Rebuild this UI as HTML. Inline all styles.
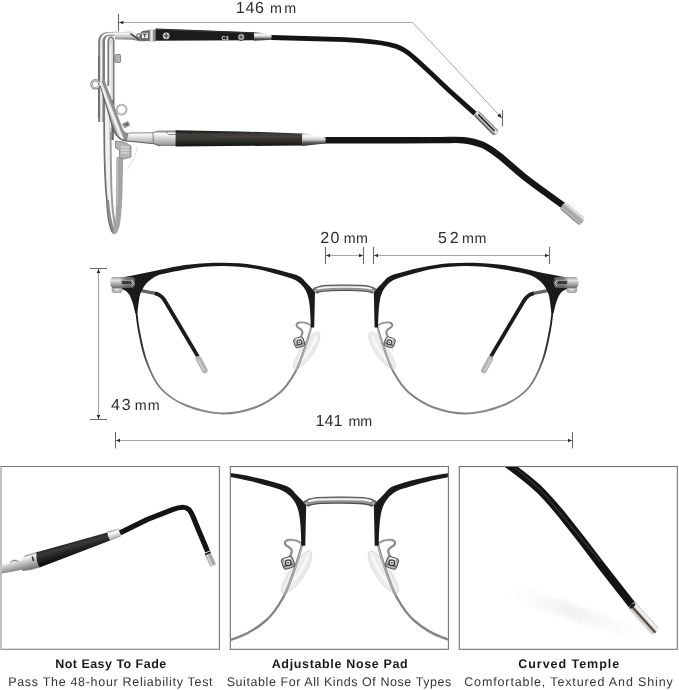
<!DOCTYPE html>
<html>
<head>
<meta charset="utf-8">
<title>Glasses dimensions</title>
<style>
html,body{margin:0;padding:0;background:#fff;}
body{width:679px;height:690px;overflow:hidden;font-family:"Liberation Sans",sans-serif;}
svg{display:block;position:absolute;left:0;top:0;will-change:transform;}
text{font-family:"Liberation Sans",sans-serif;fill:#222;text-rendering:geometricPrecision;}
.dim{stroke:#a4a4a4;stroke-width:1;fill:none;}
.tick{stroke:#6a6a6a;stroke-width:1.1;fill:none;}
.dimtxt{font-size:16px;fill:#2e2e2e;}
.cap{font-size:12.5px;fill:#363636;}
.capb{font-size:12.5px;font-weight:bold;fill:#1a1a1a;}
</style>
</head>
<body>
<svg width="679" height="690" viewBox="0 0 679 690">
<defs>
  <linearGradient id="silverV" x1="0" y1="0" x2="0" y2="1">
    <stop offset="0" stop-color="#8f8f8f"/>
    <stop offset="0.3" stop-color="#f4f4f4"/>
    <stop offset="0.6" stop-color="#bdbdbd"/>
    <stop offset="1" stop-color="#6f6f6f"/>
  </linearGradient>
  <linearGradient id="silverH" x1="0" y1="0" x2="1" y2="0">
    <stop offset="0" stop-color="#8a8a8a"/>
    <stop offset="0.35" stop-color="#f2f2f2"/>
    <stop offset="0.65" stop-color="#b5b5b5"/>
    <stop offset="1" stop-color="#7a7a7a"/>
  </linearGradient>
  <linearGradient id="endTipW" x1="0" y1="0" x2="0" y2="1">
    <stop offset="0" stop-color="#9a9a9a"/><stop offset="0.1" stop-color="#f7f7f7"/><stop offset="0.25" stop-color="#bdbdbd"/><stop offset="0.55" stop-color="#a2a2a2"/><stop offset="0.82" stop-color="#b9b9b9"/><stop offset="1" stop-color="#6d6d6d"/>
  </linearGradient>
  <linearGradient id="endTipV" x1="0" y1="0" x2="0" y2="1">
    <stop offset="0" stop-color="#6a6a6a"/><stop offset="0.3" stop-color="#f8f8f8"/><stop offset="0.6" stop-color="#c9c9c9"/><stop offset="1" stop-color="#3d3d3d"/>
  </linearGradient>
  <linearGradient id="darkBar" x1="0" y1="0" x2="0" y2="1">
    <stop offset="0" stop-color="#2a2a2a"/>
    <stop offset="0.5" stop-color="#4a4845"/>
    <stop offset="1" stop-color="#1e1e1e"/>
  </linearGradient>
</defs>

<!-- ============ DIMENSION LINES ============ -->
<g class="dim">
  <path d="M119 22.5 H412.5 L502 118.2"/>
  <path d="M326 255.5 H363"/>
  <path d="M374 255.5 H549"/>
  <path d="M98.5 269 V419"/>
  <path d="M116 440.5 H572"/>
</g>
<g class="tick">
  <path d="M118.5 14 V31 M502.5 110 V126.5"/>
  <path d="M325.5 247 V264 M363.5 247 V264"/>
  <path d="M373.5 247 V264 M549.5 247 V264"/>
  <path d="M90 268.5 H107 M90 419.5 H107"/>
  <path d="M115.5 432 V448.5 M572.5 432 V448.5"/>
</g>
<g fill="#2a2a2a">
  <path d="M119 22.5 l4.4 -1.8 v3.6z"/>
  <path d="M501.8 118 l-4.6 -2 l2.8 -2.8z"/>
  <path d="M326 255.5 l4 -1.8 v3.6z M363 255.5 l-4 -1.8 v3.6z"/>
  <path d="M374 255.5 l4 -1.8 v3.6z M549 255.5 l-4 -1.8 v3.6z"/>
  <path d="M98.5 269 l-1.8 4 h3.6z M98.5 419 l-1.8 -4 h3.6z"/>
  <path d="M116 440.5 l4 -1.8 v3.6z M572 440.5 l-4 -1.8 v3.6z"/>
</g>

<!-- ============ DIMENSION TEXT ============ -->
<text class="dimtxt" x="235.8" y="12.6" textLength="28.2" lengthAdjust="spacing">146</text>
<text class="dimtxt" x="270.1" y="12.6" style="font-size:14.3px" textLength="26.0" lengthAdjust="spacing">mm</text>
<text class="dimtxt" x="320.3" y="243.0" textLength="19.1" lengthAdjust="spacing">20</text>
<text class="dimtxt" x="343.7" y="243.0" style="font-size:14.3px" textLength="24.2" lengthAdjust="spacing">mm</text>
<text class="dimtxt" x="437.9" y="243.0" textLength="20.8" lengthAdjust="spacing">52</text>
<text class="dimtxt" x="462.0" y="243.0" style="font-size:14.3px" textLength="24.3" lengthAdjust="spacing">mm</text>
<text class="dimtxt" x="111.1" y="410.0" textLength="19.5" lengthAdjust="spacing">43</text>
<text class="dimtxt" x="134.8" y="410.0" style="font-size:14.3px" textLength="24.8" lengthAdjust="spacing">mm</text>
<text class="dimtxt" x="315.4" y="426.0" textLength="27.0" lengthAdjust="spacing">141</text>
<text class="dimtxt" x="348.5" y="426.0" style="font-size:14.3px" textLength="23.6" lengthAdjust="spacing">mm</text>

<!-- ============ PANELS ============ -->
<g fill="none" stroke="#737373" stroke-width="1.1">
  <path d="M1 466.5 H219.4 V649.3 H1" />
  <path d="M1 466 V650" stroke="#a5a5a5" stroke-width="1.4"/>
  <rect x="230.3" y="466.5" width="218.1" height="182.8"/>
  <rect x="459.3" y="466.5" width="218" height="182.8"/>
</g>

<!-- ============ CAPTIONS ============ -->
<text class="capb" x="55.2" y="667.5" textLength="111" lengthAdjust="spacing">Not Easy To Fade</text>
<text class="cap" x="8.2" y="685.5" textLength="204.4" lengthAdjust="spacing">Pass The 48-hour Reliability Test</text>
<text class="capb" x="271.7" y="667.5" textLength="136" lengthAdjust="spacing">Adjustable Nose Pad</text>
<text class="cap" x="226.7" y="685.5" textLength="224.6" lengthAdjust="spacing">Suitable For All Kinds Of Nose Types</text>
<text class="capb" x="518.2" y="667.5" textLength="101" lengthAdjust="spacing">Curved Temple</text>
<text class="cap" x="464.2" y="685.5" textLength="208.6" lengthAdjust="spacing">Comfortable, Textured And Shiny</text>

<!-- SIDEVIEW -->
<defs>
  <linearGradient id="tipA" gradientUnits="userSpaceOnUse" x1="254" y1="32" x2="254" y2="41">
    <stop offset="0" stop-color="#6a6a6a"/><stop offset="0.28" stop-color="#fafafa"/><stop offset="0.52" stop-color="#c9c9c9"/><stop offset="0.75" stop-color="#555"/><stop offset="1" stop-color="#222"/>
  </linearGradient>
  <linearGradient id="tipB" gradientUnits="userSpaceOnUse" x1="302" y1="132" x2="302" y2="147">
    <stop offset="0" stop-color="#8a8a8a"/><stop offset="0.25" stop-color="#fdfdfd"/><stop offset="0.5" stop-color="#cfcfcf"/><stop offset="0.72" stop-color="#555"/><stop offset="1" stop-color="#1e1e1e"/>
  </linearGradient>
  <linearGradient id="barB" gradientUnits="userSpaceOnUse" x1="0" y1="131" x2="0" y2="146">
    <stop offset="0" stop-color="#1c1b1a"/><stop offset="0.22" stop-color="#423f3c"/><stop offset="0.6" stop-color="#373431"/><stop offset="0.9" stop-color="#1c1b1a"/><stop offset="1" stop-color="#161515"/>
  </linearGradient>
  <linearGradient id="armB" gradientUnits="userSpaceOnUse" x1="0" y1="131" x2="0" y2="146">
    <stop offset="0" stop-color="#8d8d8d"/><stop offset="0.18" stop-color="#ffffff"/><stop offset="0.5" stop-color="#d2d2d2"/><stop offset="0.85" stop-color="#a3a3a3"/><stop offset="1" stop-color="#777"/>
  </linearGradient>
  <linearGradient id="armA" gradientUnits="userSpaceOnUse" x1="0" y1="30" x2="0" y2="41">
    <stop offset="0" stop-color="#8a8a8a"/><stop offset="0.3" stop-color="#f6f6f6"/><stop offset="0.65" stop-color="#c2c2c2"/><stop offset="1" stop-color="#6c6c6c"/>
  </linearGradient>
  <linearGradient id="diagG" gradientUnits="userSpaceOnUse" x1="105.2" y1="107.6" x2="111.4" y2="105.2">
    <stop offset="0" stop-color="#6c6c6c"/><stop offset="0.3" stop-color="#b4b4b4"/><stop offset="0.62" stop-color="#fbfbfb"/><stop offset="0.85" stop-color="#d9d9d9"/><stop offset="1" stop-color="#8e8e8e"/>
  </linearGradient>
  <linearGradient id="endTip" x1="0" y1="0" x2="1" y2="0">
    <stop offset="0" stop-color="#4a4a4a"/><stop offset="0.35" stop-color="#f4f4f4"/><stop offset="0.7" stop-color="#bdbdbd"/><stop offset="1" stop-color="#555"/>
  </linearGradient>
</defs>
<g>
  <!-- lens rim (side) tube -->
  <path d="M103.9 96.0 C104.0 101.3 104.1 118.0 104.2 128.0 C104.3 138.0 104.3 146.5 104.5 156.0 C104.7 165.5 105.2 178.2 105.6 185.0 C105.9 191.8 106.3 193.2 106.6 197.0 C106.9 200.8 107.0 204.4 107.3 208.0 C107.6 211.6 108.0 215.4 108.5 218.6 C109.0 221.8 109.8 225.0 110.5 227.4 C111.2 229.8 112.6 232.1 113.0 233.0 L116.2 232.0 L115.1 227.4 L113.9 218.6 L113.0 212.0 L112.0 200.0 L111.3 185.0 L110.8 156.0 L110.4 128.0 L109.6 96.0Z" fill="#f1f1f1"/>
  <path d="M103.9 96.0 C104.0 101.3 104.1 118.0 104.2 128.0 C104.3 138.0 104.3 146.5 104.5 156.0 C104.7 165.5 105.2 178.2 105.6 185.0 C105.9 191.8 106.3 193.2 106.6 197.0 C106.9 200.8 107.0 204.4 107.3 208.0 C107.6 211.6 108.0 215.4 108.5 218.6 C109.0 221.8 109.8 225.0 110.5 227.4 C111.2 229.8 112.6 232.1 113.0 233.0" stroke="#6e6e6e" stroke-width="1.7" fill="none"/>
  <path d="M109.6 96.0 C109.7 101.3 110.2 118.0 110.4 128.0 C110.6 138.0 110.7 146.5 110.8 156.0 C110.9 165.5 111.1 177.7 111.3 185.0 C111.5 192.3 111.7 195.5 112.0 200.0 C112.3 204.5 112.7 208.9 113.0 212.0 C113.3 215.1 113.6 216.0 113.9 218.6 C114.2 221.2 114.7 225.2 115.1 227.4 C115.5 229.6 116.0 231.2 116.2 232.0" stroke="#9a9a9a" stroke-width="1.9" fill="none"/>
  <path d="M107.6 200 C108.4 212 110 222 113.6 231" stroke="#8a8a8a" stroke-width="2.6" fill="none"/>
  <!-- grey vertical bar -->
  <path d="M116.4 157 L123.2 157 L122.6 185 C122.4 200 121.6 214 120 224 C118.8 230 117 234 114.6 234.6 L112.4 233.6 C114.6 229 115.4 222 115.8 212 C116.2 200 116.2 180 116.4 157Z" fill="#a4a4a4"/>
  <path d="M117.4 158 V205" stroke="#bfbfbf" stroke-width="1.3"/>
  <!-- inner loop -->
  <path d="M107.6 86 V42 C107.6 34.5 114.3 34.5 114.3 42 V132 L110 132 V86Z" fill="#d4d4d4"/>
  <path d="M108.2 86 V42 C108.2 35.5 113.8 35.5 113.8 42 V131" stroke="#6f6f6f" stroke-width="1.3" fill="none"/>
  <path d="M110.6 44 V128" stroke="#f3f3f3" stroke-width="1.6" fill="none"/>
  <path d="M112.6 100 V140" stroke="#6a6a6a" stroke-width="2.4" fill="none"/>
  <!-- outer frame stroke -->
  <path d="M98.2 122 V42 C98.2 35.5 102 32 109 32 L118.5 31.8 L118.5 35.6 L110.5 35.7 C106.5 35.8 105 37.5 105 42 V122 Z" fill="#7c7c7c"/>
  <path d="M101.3 122 V42 C101.3 37 103.8 33.9 109.5 33.7 L118.5 33.5" stroke="#f0f0f0" stroke-width="2.3" fill="none"/>
  <path d="M98.7 118 V56" stroke="#5c5c5c" stroke-width="0.9" fill="none"/>
  <!-- knob -->
  <rect x="115" y="54.5" width="5.6" height="8" rx="1.2" fill="#b4b4b4" stroke="#6d6d6d" stroke-width="0.8"/>
  <!-- top hinge arm -->
  <path d="M113.5 32.6 L131 31.4 L138 34.6 L141 40.8 L132 39 L115 38.6Z" fill="url(#armA)"/>
  <path d="M115 38.8 L132 39.2 L141 41" stroke="#6e6e6e" stroke-width="0.9" fill="none"/>
  <path d="M130.4 33.6 L139.6 40" stroke="#3d3d3d" stroke-width="1.5" fill="none"/>
  <path d="M138.5 36.5 L142.5 31 L149.5 30 L149.5 41 L141.5 41.2Z" fill="#6a6a6a"/>
  <circle cx="138.6" cy="35.6" r="2" fill="#cfcfcf" stroke="#555" stroke-width="0.8"/>
  <rect x="141.2" y="32.2" width="7.2" height="6.6" fill="#ededed" stroke="#4a4a4a" stroke-width="0.8"/>
  <path d="M142.8 34.2 h4 M144.8 34.2 v3.4" stroke="#333" stroke-width="1" fill="none"/>
  <rect x="149" y="29.6" width="6.6" height="11.8" fill="#8c8c8c"/>
  <rect x="150.4" y="29.6" width="2.4" height="11.8" fill="#eaeaea"/>
  <!-- top black bar -->
  <path d="M155.5 28.5 L254 32.3 L254 40.2 L155.5 40.8Z" fill="#1d1c1c"/>
  <path d="M156 29.4 L254 33" stroke="#3b3b3b" stroke-width="0.8"/>
  <circle cx="166.2" cy="35.8" r="3.9" fill="#d4d4d4" stroke="#0c0c0c" stroke-width="0.8"/>
  <circle cx="166.2" cy="35.8" r="1.6" fill="#666"/><path d="M163.6 35.8 H168.8 M166.2 33.2 V38.4" stroke="#555" stroke-width="0.9"/>
  <circle cx="241.2" cy="37" r="3.5" fill="#cacaca" stroke="#0c0c0c" stroke-width="0.8"/>
  <circle cx="241.2" cy="37" r="1.4" fill="#666"/><path d="M238.8 37 H243.6 M241.2 34.6 V39.4" stroke="#555" stroke-width="0.9"/>
  <text x="221.5" y="39.6" font-size="5.6" font-weight="bold" style="fill:#e4e4e4">C3</text>
  <!-- top silver tip -->
  <path d="M254 31.8 L270 34.6 L272.4 35.2 L272.4 39.8 L254 40.8Z" fill="url(#tipA)"/>
  <!-- top wire -->
  <path d="M271.5 37.5 L345 39.6 L360 40.6 C372 41.4 385 43 395.3 46.1 C402 48.4 408 52.6 412 56 C415 58.6 417 60.2 418.3 61.5 L430.7 73 L448.3 89.8 L475 113.6" stroke="#151515" stroke-width="4.8" fill="none"/>
  <!-- top end tip -->
  <g transform="translate(475.8 112.8) rotate(45.3)">
    <rect x="0" y="-3.4" width="29.4" height="6.8" rx="2.8" fill="url(#endTipV)" stroke="#9a9a9a" stroke-width="0.5"/>
    <path d="M3.5 -0.6 H25.5" stroke="#1c1c1c" stroke-width="1.5" stroke-linecap="round"/>
  </g>

  <!-- nose pad arm (side) -->
  <circle cx="95.4" cy="84.2" r="4" fill="none" stroke="#7d7d7d" stroke-width="2.4"/>
  <circle cx="95.4" cy="84.2" r="4" fill="none" stroke="#e4e4e4" stroke-width="0.9"/>
  <circle cx="121.6" cy="109.6" r="5" fill="none" stroke="#8d8d8d" stroke-width="1.7"/>
  <circle cx="121.6" cy="109.6" r="5" fill="none" stroke="#eeeeee" stroke-width="0.6"/>
  <path d="M122.5 124 l5.4 -2.4 l2 3.6 l-5.4 2.6z" fill="#9a9a9a" stroke="#6a6a6a" stroke-width="0.6"/>
  <path d="M125.4 125 l2.4 -1.2" stroke="#444" stroke-width="1.4"/>
  <!-- lower hinge arm (horizontal) -->
  <path d="M120 128 C122 131.5 124.5 133 128.6 133 L152 132.8 L158 131 L176.5 131 L176.5 146 L160 146 L154 143.7 L126.6 141 C121 140.4 117 137 114.6 132.5Z" fill="url(#armB)"/>
  <path d="M128.6 133 L152 132.8 L158 131 L176.5 131" stroke="#808080" stroke-width="0.9" fill="none"/>
  <path d="M160 146 L154 143.7 L126.6 141 C121 140.4 117 137 114.6 132.5" stroke="#5f5f5f" stroke-width="1.1" fill="none"/>
  <path d="M153 133 L153.5 143.5 M166 131.5 l2.5 3 h7.5" stroke="#777" stroke-width="0.9" fill="none"/>
  <!-- diagonal arm -->
  <path d="M99.6 81.4 L104.6 80.6 L106 84 L122.6 128.4 C123.6 131 125.6 132.8 128.6 133 L127 140.8 C120.4 140 115.2 135 113.2 129.2 L100.4 86Z" fill="url(#diagG)"/>
  <path d="M100.4 86 L113.2 129.2 C115.2 135 120.4 140 127 140.8" stroke="#5a5a5a" stroke-width="1" fill="none"/>
  <!-- hinge knuckle -->
  <path d="M115.5 141 L124 142 L131 146 L131 157 L124 159 L119.5 157.5 L119.5 150 L115.5 148Z" fill="#b4b4b4" stroke="#7d7d7d" stroke-width="0.8"/>
  <path d="M121 147 h8 M121 150 h8 M121 153 h8" stroke="#e8e8e8" stroke-width="1"/>
  <path d="M137.5 146 C136 156 131 164 127.5 169" stroke="#e3e3e3" stroke-width="1.1" fill="none"/>
  <!-- lower dark bar -->
  <path d="M175.6 130.2 L240 131.4 L302.4 133.4 L302.4 145.5 L175.6 146.5Z" fill="url(#barB)"/>
  <path d="M215 137 H300" stroke="#55524f" stroke-width="1.2" opacity="0.7"/>
  <!-- lower wire -->
  <path d="M321.0 140.2 C334.2 140.2 380.2 140.2 400.0 140.2 C419.8 140.2 429.4 140.1 440.0 140.1 C450.6 140.1 456.5 139.4 463.6 140.2 C470.7 141.0 476.5 142.3 482.4 144.8 C488.3 147.3 492.2 150.3 498.9 155.4 C505.6 160.5 514.6 169.1 522.5 175.4 C530.4 181.7 539.3 188.1 546.0 193.0 C552.7 197.9 560.0 203.3 564.6 206.4" stroke="#151515" stroke-width="6.4" fill="none"/>
  <!-- lower silver tip -->
  <path d="M302.2 133 L322 136.8 L325.6 137.4 L325.6 143.4 L302.2 146Z" fill="url(#tipB)"/>
  <g transform="translate(562.4 205.2) rotate(40.4)">
    <rect x="0" y="-4.5" width="26.4" height="9" rx="2.6" fill="url(#endTipW)"/>
  </g>
</g>

<!-- FRONTVIEW -->
<defs>
  <linearGradient id="rimG" gradientUnits="userSpaceOnUse" x1="0" y1="312" x2="0" y2="414">
    <stop offset="0" stop-color="#1c1c1c"/>
    <stop offset="0.35" stop-color="#2e2e2e"/>
    <stop offset="0.6" stop-color="#777"/>
    <stop offset="1" stop-color="#8d8d8d"/>
  </linearGradient>
  <linearGradient id="hingeG" gradientUnits="userSpaceOnUse" x1="0" y1="277" x2="0" y2="288">
    <stop offset="0" stop-color="#9a9a9a"/>
    <stop offset="0.3" stop-color="#e6e6e6"/>
    <stop offset="0.55" stop-color="#b8b8b8"/>
    <stop offset="1" stop-color="#6a6a6a"/>
  </linearGradient>
  <linearGradient id="hingeD" gradientUnits="userSpaceOnUse" x1="120" y1="0" x2="135" y2="0">
    <stop offset="0" stop-color="#6a6a6a" stop-opacity="0"/><stop offset="0.35" stop-color="#5e5e5e" stop-opacity="0.75"/><stop offset="1" stop-color="#4a4a4a" stop-opacity="0.9"/>
  </linearGradient>
  <g id="halfFront">
    <!-- temple arm seen through lens -->
    <path d="M141 290.6 L156.5 293.6" stroke="#646464" stroke-width="3.4" fill="none"/>
    <path d="M155 293.3 C160 294.3 162.4 296.4 165 301 L198 356.6" stroke="#1b1b1b" stroke-width="3.8" fill="none" stroke-linejoin="round"/>
    <path d="M198.6 358.8 L204.8 370.4" stroke="#b2b2b2" stroke-width="5.8" stroke-linecap="round" fill="none"/>
    <path d="M198.2 359.6 L204 370.6" stroke="#cfcfcf" stroke-width="1.6" stroke-linecap="round" fill="none"/>
    <!-- nose pad -->
    <path d="M318.6 332.2 C321.5 334 319.5 343 313 353.5 C306.5 364 297 370.5 294 368 C291.8 365.5 296 356.5 302.5 346.5 C308.5 337.5 315.6 330.4 318.6 332.2Z" fill="#ececec" stroke="#d2d2d2" stroke-width="0.7"/>
    <path d="M316.5 336 C314 344 307 355 299 363" stroke="#fafafa" stroke-width="2" fill="none"/>
    <!-- lower rim -->
    <path d="M136.3 312 C136.9 315 137.2 322 138.8 330 C140.3 338 142.5 350.4 146 360 C149.5 369.6 153.5 380 160 387.5 C166.5 395 174.6 400.7 185 405 C195.4 409.3 210.8 413.1 222.5 413.5" stroke="url(#rimG)" stroke-width="1.9" fill="none"/>
    <path d="M222 413.5 C234.2 413.9 245.4 411 255 407.5 C264.6 404 273.3 398.3 280 392.5 C286.7 386.7 290.8 380 295 372.5 C299.2 365 302.7 354.6 305 347.5 C307.3 340.4 309.5 334 310.5 330 L312.5 322" stroke="#858585" stroke-width="2.1" fill="none"/>
    <path d="M296 370 C299.6 363.6 302.8 354.6 305.2 347.5 C307.4 340.4 309.6 334 310.7 330 L312.2 324" stroke="#c9c9c9" stroke-width="0.7" fill="none"/>
    <!-- nose pad arm -->
    <path d="M311 325.5 C305 321.5 297 321.5 296.5 325 C296 328.5 303 328 302.5 333 L300.5 338" stroke="#8c8c8c" stroke-width="2" fill="none" stroke-linecap="round"/>
    <path d="M310.5 326 C305 322.8 298.5 322.5 298 325" stroke="#e8e8e8" stroke-width="0.8" fill="none"/>
    <rect x="294.2" y="337.6" width="10" height="9.6" rx="2.4" fill="#b9b9b9" stroke="#4a4a4a" stroke-width="0.9" transform="rotate(-18 299 342.5)"/>
    <path d="M295.4 345.6 L303.4 343.2" stroke="#6a6a6a" stroke-width="1.6" fill="none"/>
    <path d="M295.6 339.6 L301.6 337.8" stroke="#f4f4f4" stroke-width="1.1" fill="none"/>
    <circle cx="299.4" cy="342.3" r="2.4" fill="#e6e6e6" stroke="#2e2e2e" stroke-width="1"/>
    <circle cx="299.4" cy="342.3" r="0.9" fill="#555"/>
    <!-- black top frame -->
    <path d="M122 277.6 L135 275 C150 272.2 170 267.2 185 265 C199 263.4 212 262.8 222.5 262.8 C234 262.8 245 263.5 255 265.2 C268 267.2 282 270.6 292.5 273.8 C297.5 275.3 300.5 276.6 303 279 C307.5 284.5 312.6 288.5 315 292.5 L314.2 327.5 L310.8 327.5 C310.5 315 310 306 308.8 300 C307.5 293 305.5 289.5 302.5 286 C299 282 296 280 290 278 C280 274.8 266 270.8 255 268.8 C244 266.8 234 265.9 222.5 265.9 C211 265.9 197 266.9 185 269.4 C175 271.4 165 273 158.8 275 C153.4 277 148.4 281 145.5 284.6 C143 287.8 141 291.6 139.9 295.2 C139 299 138.2 306 137.4 313 L135.2 313 C134.2 308 132.4 300.5 129.8 295.4 C127.6 291.6 124.6 289.6 121.4 288.9 L121.4 284 Z" fill="#1a1a1a"/>
    <!-- hinge -->
    <rect x="112" y="287" width="10" height="5.6" rx="2" fill="#b4b4b4" stroke="#8a8a8a" stroke-width="0.6"/>
    <path d="M115 289.8 h4.5" stroke="#efefef" stroke-width="1.2"/>
    <path d="M114 277 H131 Q135 277 135 281.5 V283.5 Q135 288 131 288 H114 Q110.2 288 110.2 282.5 Q110.2 277 114 277Z" fill="url(#hingeG)"/>
    <path d="M120 277 H131 Q135 277 135 281.5 V283.5 Q135 288 131 288 H120Z" fill="url(#hingeD)"/>
    <path d="M121.5 280.4 H130.6 L132.6 283.6 L130.8 284.8 H121.5Z" fill="#3b3b3b" stroke="#bdbdbd" stroke-width="0.7"/>
    <path d="M131.4 279.6 L134 283.4 L131.6 286.4" stroke="#e2e2e2" stroke-width="0.9" fill="none"/>
  </g>
</defs>
<g id="frontAll">
<use href="#halfFront"/>
<use href="#halfFront" transform="translate(688.8 0) scale(-1 1)"/>
<!-- bridge -->
<path d="M314.6 291.4 C319 287.6 330 287.8 344.4 287.8 C359 287.8 370 287.6 374.2 291.4" stroke="#4f4f4f" stroke-width="6.4" fill="none"/>
<path d="M314.8 291.2 C319 287.6 330 287.8 344.4 287.8 C359 287.8 370 287.6 374 291.2" stroke="#939393" stroke-width="4.4" fill="none"/>
<path d="M316 289.8 C320 286.8 330 287 344.4 287 C359 287 369 286.8 372.8 289.8" stroke="#f4f4f4" stroke-width="1.7" fill="none"/>
<circle cx="315.6" cy="290.6" r="1.6" fill="#bdbdbd" stroke="#4a4a4a" stroke-width="0.6"/>
<circle cx="373.2" cy="290.6" r="1.6" fill="#bdbdbd" stroke="#4a4a4a" stroke-width="0.6"/>
</g>

<!-- PANEL1 -->
<defs>
  <clipPath id="clip1"><rect x="1.6" y="467" width="217.3" height="181.8"/></clipPath>
  <linearGradient id="bar1" gradientUnits="userSpaceOnUse" x1="72" y1="541" x2="76" y2="555.5">
    <stop offset="0" stop-color="#1b1b1b"/><stop offset="0.3" stop-color="#3d3b3a"/><stop offset="0.6" stop-color="#262524"/><stop offset="1" stop-color="#0e0e0e"/>
  </linearGradient>
  <linearGradient id="sil1" gradientUnits="userSpaceOnUse" x1="18" y1="556" x2="22" y2="571">
    <stop offset="0" stop-color="#8a8a8a"/><stop offset="0.22" stop-color="#f4f4f4"/><stop offset="0.55" stop-color="#bdbdbd"/><stop offset="1" stop-color="#7a7a7a"/>
  </linearGradient>
  <linearGradient id="ring1" gradientUnits="userSpaceOnUse" x1="112" y1="529" x2="116" y2="541">
    <stop offset="0" stop-color="#7d7d7d"/><stop offset="0.3" stop-color="#ffffff"/><stop offset="0.65" stop-color="#c5c5c5"/><stop offset="1" stop-color="#5c5c5c"/>
  </linearGradient>
</defs>
<g clip-path="url(#clip1)">
  <!-- silver hinge -->
  <path d="M1 565.2 L9.5 563 C10.5 559.5 14 558.6 17.5 559.4 L20 561 L24.5 556 L34 553.2 L38 552 L39.5 567.2 L31 569.6 L23 570.6 L21.5 569.4 L1 573.2Z" fill="url(#sil1)"/>
  <path d="M10.5 562.6 C12 560.2 15.5 560 18.5 561.6" stroke="#6d6d6d" stroke-width="0.9" fill="none"/>
  <path d="M1 573.2 L21.5 569.4 L23 570.6 L31 569.6 L39.5 567.2" stroke="#7d7d7d" stroke-width="0.8" fill="none"/>
  <path d="M24.5 556 L34 553.2 L38 552" stroke="#8a8a8a" stroke-width="0.8" fill="none"/>
  <path d="M32.2 556.5 L33.6 561" stroke="#333" stroke-width="1.6" fill="none"/>
  <!-- black bar -->
  <path d="M36.6 552.2 L107.4 532.4 L110.2 540.4 L39.6 567.4 Q35.5 560 36.6 552.2Z" fill="url(#bar1)"/>
  <!-- ring -->
  <path d="M107.2 531.6 L118.8 528.4 Q121.5 532 120.6 536.4 L110.2 540.6 Q107.6 536 107.2 531.6Z" fill="url(#ring1)"/>
  <!-- wire -->
  <path d="M120 532.8 L147.5 519.4 L172.5 509.6 C179 507 185.4 506.4 188.6 509.2 C191 511.4 192.6 515.6 194.4 520 L197.5 527.5 L207.6 551.6" stroke="#141414" stroke-width="5.2" fill="none" stroke-linejoin="round"/>
  <!-- tip -->
  <path d="M207.3 552.4 L213.2 565.6" stroke="#a9a9a9" stroke-width="6.2" stroke-linecap="butt" fill="none"/>
  <path d="M206.2 553 L212 566" stroke="#d6d6d6" stroke-width="1.6" fill="none"/>
  <path d="M205 554.4 L210.6 552" stroke="#1a1a1a" stroke-width="1.6" fill="none"/>
</g>

<!-- PANEL2 -->
<defs><clipPath id="clip2"><rect x="230.8" y="467" width="217.1" height="181.8"/></clipPath></defs>
<g clip-path="url(#clip2)">
  <use href="#frontAll" transform="translate(340 498) scale(1.15 1.15) translate(-344.4 -286)"/>
</g>

<!-- PANEL3 -->
<defs>
  <filter id="blur3" x="-10%" y="-50%" width="120%" height="200%"><feGaussianBlur stdDeviation="2.5"/></filter>
  <clipPath id="clip3"><rect x="459.8" y="467" width="217" height="181.8"/></clipPath>
  <linearGradient id="shadow3" gradientUnits="userSpaceOnUse" x1="495" y1="583" x2="640" y2="635">
    <stop offset="0" stop-color="#fff" stop-opacity="0"/><stop offset="0.5" stop-color="#ececec"/><stop offset="1" stop-color="#f3f3f3" stop-opacity="0.2"/>
  </linearGradient>
  <linearGradient id="tip3" x1="0" y1="0" x2="0" y2="1">
    <stop offset="0" stop-color="#b9b9b9"/><stop offset="0.18" stop-color="#fbfbfb"/><stop offset="0.42" stop-color="#d8d0cc"/><stop offset="0.56" stop-color="#2c2826"/><stop offset="0.7" stop-color="#8e8986"/><stop offset="0.88" stop-color="#f5ece8"/><stop offset="1" stop-color="#a59d99"/>
  </linearGradient>
</defs>
<g clip-path="url(#clip3)">
  <path d="M497 577 L642 629 L637 641 L492 593Z" fill="url(#shadow3)" opacity="0.75" filter="url(#blur3)"/>
  <path d="M500 458.5 C520 473 530 481 538.75 489 C548 498 555 506.5 561.25 514 L581 539 L600 564 L632.5 605.5" stroke="#131313" stroke-width="8" fill="none"/>
  <path d="M515 468 C528 478 538 487 547 497 L600 561" stroke="#3a3a3a" stroke-width="1.4" fill="none" opacity="0.8"/>
  <g transform="translate(631.2 604.6) rotate(47.9)">
    <rect x="0" y="-4.6" width="37" height="9.2" rx="2.2" fill="url(#tip3)"/>
    <ellipse cx="1.8" cy="0" rx="1.6" ry="3.6" fill="#1b1b1b"/>
  </g>
</g>

</svg>
</body>
</html>
